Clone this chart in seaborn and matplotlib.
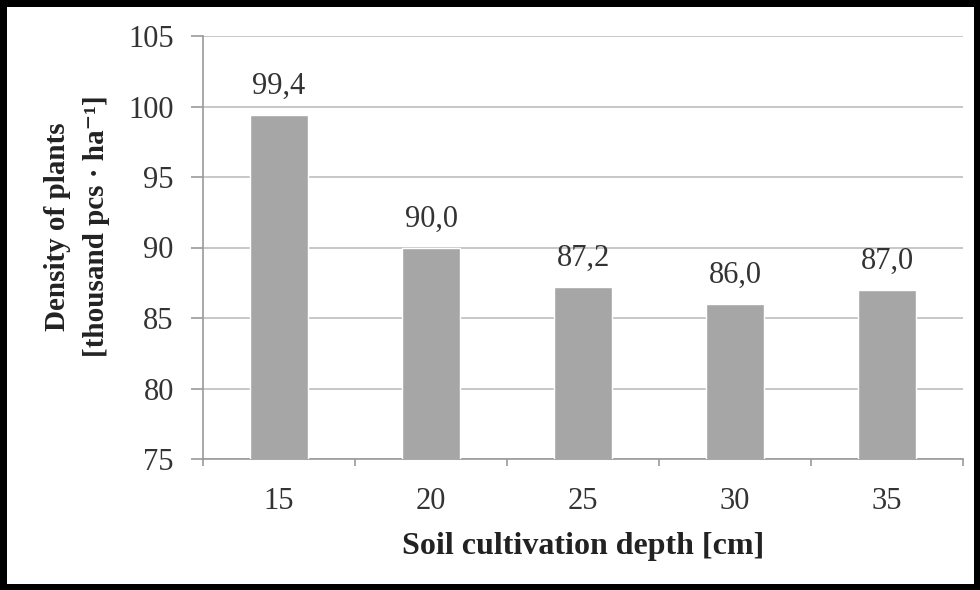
import numpy as np
import pandas as pd
import seaborn as sns
import matplotlib.pyplot as plt
from matplotlib.ticker import FixedLocator

sns.set_theme(style="white")
plt.rcParams['font.family'] = ['Liberation Serif', 'DejaVu Serif']

depth = ["15", "20", "25", "30", "35"]
density = [99.4, 90.0, 87.2, 86.0, 87.0]

df = pd.DataFrame({"depth": depth, "density": density})

fig = plt.figure(figsize=(9.8, 5.9), dpi=100)
ax = fig.add_axes([203 / 980, 1 - 459 / 590, 760 / 980, 423 / 590])

sns.barplot(data=df, x="depth", y="density", color="#a6a6a6", saturation=1,
            width=0.38, ax=ax, zorder=3)

ax.set_ylim(75, 105)
ax.set_xlim(-0.5, 4.5)
ax.set_yticks(np.arange(75, 106, 5))
ax.yaxis.grid(True, color="#bdbdbd", linewidth=1.2, zorder=0)
ax.xaxis.set_minor_locator(FixedLocator(np.arange(-0.5, 4.6, 1)))
ax.tick_params(axis="y", which="major", length=9, color="#9a9a9a", width=1.2,
               labelsize=22, labelcolor="#333333", pad=12, left=True)
ax.tick_params(axis="x", which="major", length=0, labelsize=22,
               labelcolor="#333333", pad=20)
ax.tick_params(axis="x", which="minor", length=5, color="#9a9a9a", width=1.2, bottom=True)

for s in ["top", "right"]:
    ax.spines[s].set_visible(False)
for s in ["left", "bottom"]:
    ax.spines[s].set_color("#9a9a9a")
    ax.spines[s].set_linewidth(1.2)

for i, v in enumerate(density):
    ax.text(i, v + 1.0, f"{v:.1f}".replace(".", ","), ha="center", va="bottom",
            fontsize=22, color="#333333")

ax.set_xlabel("Soil cultivation depth [cm]", fontsize=23, fontweight="bold",
              color="#222222", labelpad=12)
ax.set_ylabel("Density of plants\n[thousand pcs · ha⁻¹]", fontsize=21,
              fontweight="bold", color="#222222", linespacing=1.6)
ax.yaxis.set_label_coords(-0.122, 0.55)

fig.patch.set_edgecolor("black")
fig.patch.set_linewidth(9)

fig.savefig("out.png", dpi=100, edgecolor=fig.get_edgecolor())
